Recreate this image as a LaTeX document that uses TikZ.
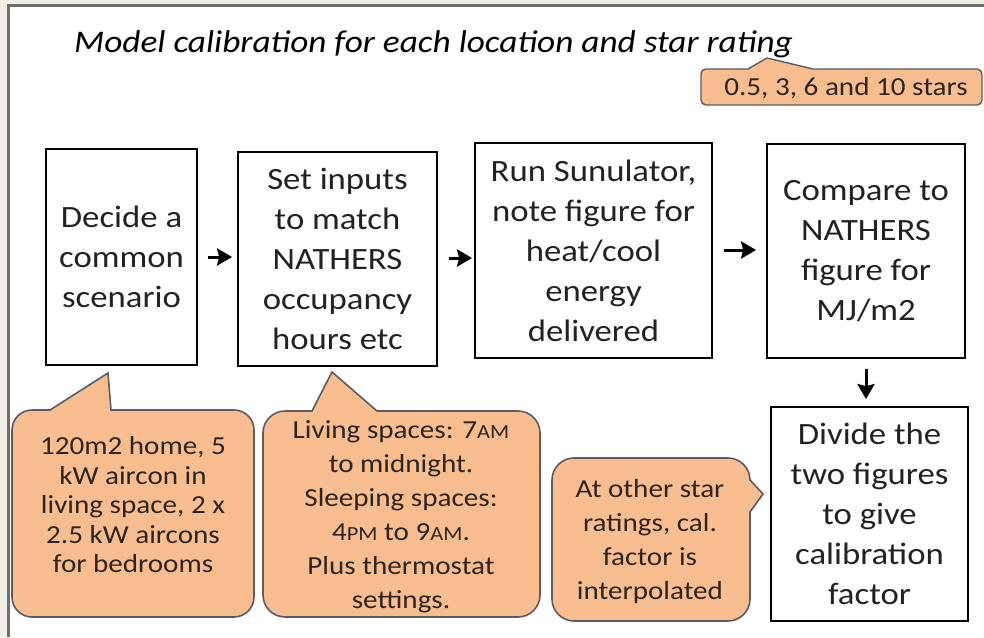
\documentclass[tikz,border=0pt]{standalone}
\usepackage{fontspec}
\setmainfont{Carlito}[FakeStretch=1.12]
\usetikzlibrary{arrows.meta}
\definecolor{bgbeige}{HTML}{F2EEE8}
\definecolor{framegray}{HTML}{6E6E6E}
\definecolor{orfill}{HTML}{F9BE8F}
\definecolor{ordraw}{HTML}{5A5C62}
\definecolor{ctextc}{HTML}{2E241C}
\definecolor{boxtext}{HTML}{222222}
\newcommand\smcaps[1]{{\fontsize{20}{20}\selectfont #1}}
\tikzset{
  flowbox/.style={draw=black, line width=1.8pt, fill=white, align=center, inner sep=0pt,
    text=boxtext, font=\fontsize{31}{40}\selectfont},
  callout/.style={draw=ordraw, line width=1.6pt, fill=orfill},
  ctextA/.style={align=center, inner sep=0pt, text=ctextc, font=\fontsize{26}{29.5}\selectfont},
  ctextB/.style={align=center, inner sep=0pt, text=ctextc, font=\fontsize{26}{34}\selectfont},
  arr/.style={line width=3pt, -{Stealth[length=15pt,width=17pt,inset=2pt]}}
}
\begin{document}
\begin{tikzpicture}[x=1pt,y=-1pt]
\useasboundingbox (0,0) rectangle (984,637);
\fill[bgbeige] (0,0) rectangle (984,637);
\fill[white] (8,5) rectangle (984,637);
\draw[framegray, line width=3pt] (8,637) -- (8,5) -- (984,5);

% title
\node[anchor=base west, inner sep=0pt, text=black, font=\itshape\fontsize{31.5}{36}\selectfont] (title) at (74,52) {Model calibration for each location and star rating};

% badge
\draw[callout, line width=1.4pt] (706,69) -- (748,69) -- (767,58) -- (813,69) -- (977,69)
  arc[start angle=270, end angle=360, radius=5] -- (982,100)
  arc[start angle=0, end angle=90, radius=5] -- (706,105)
  arc[start angle=90, end angle=180, radius=5] -- (701,74)
  arc[start angle=180, end angle=270, radius=5] -- cycle;
\node[ctextA] (badge) at (846,88) {0.5, 3, 6 and 10 stars};

% flow boxes
\node[flowbox, minimum width=151pt, minimum height=216pt] (b1) at (121.5,257) {Decide a\\common\\scenario};
\node[flowbox, minimum width=199pt, minimum height=214pt] (b2) at (337.5,259) {Set inputs\\to match\\NATHERS\\occupancy\\hours etc};
\node[flowbox, minimum width=237pt, minimum height=215pt] (b3) at (593.5,250.5) {Run Sunulator,\\note figure for\\heat/cool\\energy\\delivered};
\node[flowbox, minimum width=198pt, minimum height=214pt] (b4) at (866,251) {Compare to\\NATHERS\\figure for\\MJ/m2};
\node[flowbox, minimum width=197pt, minimum height=214pt] (b5) at (869.5,514) {Divide the\\two figures\\to give\\calibration\\factor};

% arrows
\draw[arr, shorten <=10pt, shorten >=5pt] (b1.east |- 0,257) -- (b2.west |- 0,257);
\draw[arr, shorten <=11pt, shorten >=2pt] (b2.east |- 0,258) -- (b3.west |- 0,258);
\draw[arr, shorten <=11pt, shorten >=10pt] (b3.east |- 0,250) -- (b4.west |- 0,250);
\draw[arr, shorten <=10pt, shorten >=7pt] (b4.south) -- (b4.south |- b5.north);

% callout 1
\draw[callout] (32,410) -- (50,410) -- (108,373) -- (111,410) -- (234,410)
  arc[start angle=270, end angle=360, radius=20] -- (254,597)
  arc[start angle=0, end angle=90, radius=20] -- (32,617)
  arc[start angle=90, end angle=180, radius=20] -- (12,430)
  arc[start angle=180, end angle=270, radius=20] -- cycle;
\node[ctextA] (c1) at (133,505) {120m2 home, 5\\kW aircon in\\living space, 2 x\\2.5 kW aircons\\for bedrooms};

% callout 2
\draw[callout] (285,411) -- (312,411) -- (332,372) -- (377,411) -- (518,411)
  arc[start angle=270, end angle=360, radius=22] -- (540,595)
  arc[start angle=0, end angle=90, radius=22] -- (285,617)
  arc[start angle=90, end angle=180, radius=22] -- (263,433)
  arc[start angle=180, end angle=270, radius=22] -- cycle;
\node[ctextB] (c2) at (401,517) {Living spaces: 7\smcaps{AM}\\to midnight.\\Sleeping spaces:\\4\smcaps{PM} to 9\smcaps{AM}.\\Plus thermostat\\settings.};

% callout 3
\draw[callout] (574,458) -- (728,458)
  arc[start angle=270, end angle=360, radius=22] -- (763,494) -- (750,512) -- (750,599)
  arc[start angle=0, end angle=90, radius=22] -- (574,621)
  arc[start angle=90, end angle=180, radius=22] -- (552,480)
  arc[start angle=180, end angle=270, radius=22] -- cycle;
\node[ctextB] (c3) at (650,541.5) {At other star\\ratings, cal.\\factor is\\interpolated};
\end{tikzpicture}
\end{document}
